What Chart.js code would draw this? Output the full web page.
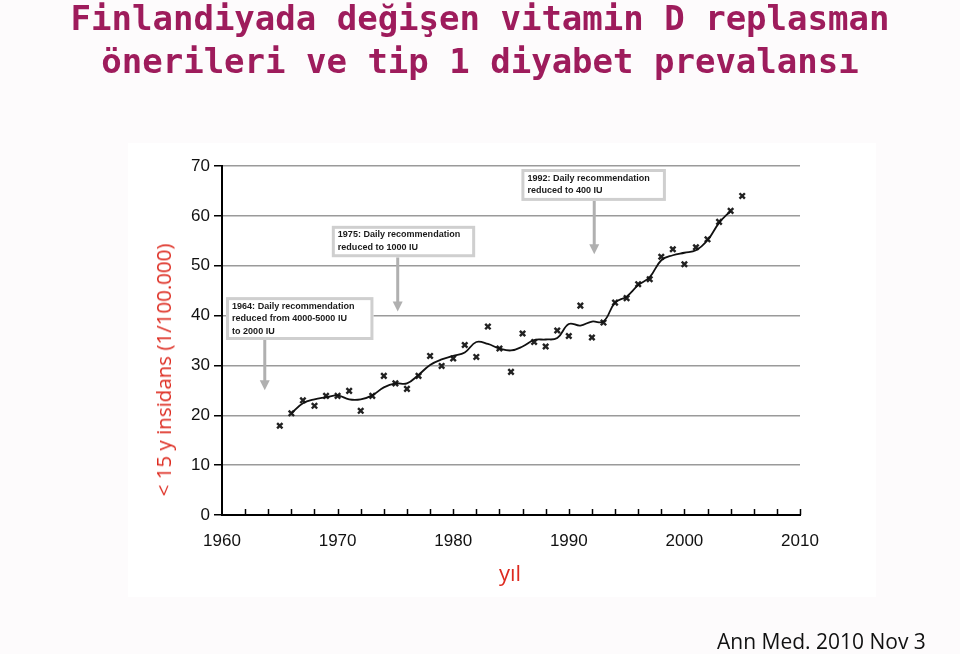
<!DOCTYPE html>
<html>
<head>
<meta charset="utf-8">
<script src="https://cdn.jsdelivr.net/npm/chart.js@4"></script>
<style>
  html, body { margin: 0; padding: 0; }
  body { width: 960px; height: 654px; position: relative; overflow: hidden; background: #fdfbfc; }
  #panel { position: absolute; left: 128px; top: 143px; width: 748px; height: 454px; background: #ffffff; }
  #wrap { position: absolute; left: 0; top: 0; width: 960px; height: 654px; }
  #title { position: absolute; left: 0; top: -3px; width: 960px; text-align: center;
           font-family: "DejaVu Sans Mono", monospace; font-weight: bold; font-size: 34px;
           line-height: 43px; color: #9e1c5c; white-space: pre; }
  #ylab { position: absolute; left: 163px; top: 370px; transform: translate(-50%, -50%) rotate(-90deg);
          font-family: "Open Sans", sans-serif; font-size: 20.5px; color: #dd2a1f; white-space: nowrap; }
  #xlab { position: absolute; left: 510px; top: 572px; transform: translate(-50%, -50%);
          font-family: "Open Sans", sans-serif; font-size: 22px; color: #dd2a1f; }
  #src { position: absolute; left: 717px; top: 641px; transform: translateY(-50%);
         font-family: "Open Sans", sans-serif; font-size: 21px; color: #111; white-space: nowrap; }
</style>
</head>
<body>
<div id="panel"></div>
<div id="wrap"><canvas id="c" width="960" height="654"></canvas></div>
<div id="title">Finlandiyada değişen vitamin D replasman
önerileri ve tip 1 diyabet prevalansı</div>
<div id="ylab">&lt; 15 y insidans (1/100.000)</div>
<div id="xlab">yıl</div>
<div id="src">Ann Med. 2010 Nov 3</div>
<script>
// ---- data ----
const years = [1965,1966,1967,1968,1969,1970,1971,1972,1973,1974,1975,1976,1977,1978,1979,1980,
               1981,1982,1983,1984,1985,1986,1987,1988,1989,1990,1991,1992,1993,1994,1995,1996,
               1997,1998,1999,2000,2001,2002,2003,2004,2005];
const incidence = [17.9,20.4,23.0,21.9,23.9,23.9,24.9,20.9,23.9,27.9,26.4,25.3,27.9,31.9,29.9,31.4,
                   34.1,31.7,37.8,33.4,28.7,36.4,34.7,33.8,37.0,35.9,42.0,35.6,38.6,42.6,43.5,46.3,
                   47.3,51.8,53.3,50.3,53.7,55.3,58.8,61.0,64.0];
const trendYears = [1966,1967,1968,1969,1970,1971,1972,1973,1974,1975,1976,1977,1978,1979,1980,
                    1981,1982,1983,1984,1985,1986,1987,1988,1989,1990,1991,1992,1993,1994,1995,
                    1996,1997,1998,1999,2000,2001,2002,2003,2004];
const trendValues = [20.4,22.4,23.2,23.6,24.0,23.2,23.2,24.0,25.6,26.4,26.4,28.1,30.1,31.2,31.9,
                     32.6,34.7,34.3,33.4,33.0,33.8,35.1,35.2,35.5,38.3,38.0,38.8,38.8,42.6,43.8,
                     46.1,47.7,51.1,52.1,52.6,53.1,55.1,58.6,61.0];
const xTickLabels = [1960,1970,1980,1990,2000,2010];
const yTickLabels = [0,10,20,30,40,50,60,70];
const noteYears = [1964,1975,1992];
const noteTexts = [
  ["1964: Daily recommendation", "reduced from 4000-5000 IU", "to 2000 IU"],
  ["1975: Daily recommendation", "reduced to 1000 IU"],
  ["1992: Daily recommendation", "reduced to 400 IU"]
];

// annotation geometry (data coordinates)
const noteGeom = [
  {x0:1960.35, x1:1973.1, yTop:43.7, yBot:35.1, arrowX:1963.7, tip:25.0},
  {x0:1969.5,  x1:1981.9, yTop:58.0, yBot:51.7, arrowX:1975.2, tip:40.8},
  {x0:1985.9,  x1:1998.4, yTop:69.4, yBot:63.0, arrowX:1992.2, tip:52.3}
];

const pts = years.map((y,i)=>({x:y, y:incidence[i]}));
const trend = trendYears.map((y,i)=>({x:y, y:trendValues[i]}));

const decor = {
  id: 'decor',
  afterDatasetsDraw(chart) {
    const ctx = chart.ctx, xs = chart.scales.x, ys = chart.scales.y;
    ctx.save();
    // minor upward ticks on the x axis every 2 years
    ctx.strokeStyle = '#000'; ctx.lineWidth = 1.5;
    const y0 = ys.getPixelForValue(0);
    for (let yr = 1962; yr <= 2010; yr += 2) {
      const px = Math.round(xs.getPixelForValue(yr)) + 0.5;
      ctx.beginPath(); ctx.moveTo(px, y0); ctx.lineTo(px, y0 - 6); ctx.stroke();
    }
    // annotation boxes and arrows
    noteGeom.forEach((g, i) => {
      const l = xs.getPixelForValue(g.x0), r = xs.getPixelForValue(g.x1);
      const t = ys.getPixelForValue(g.yTop), b = ys.getPixelForValue(g.yBot);
      const ax = xs.getPixelForValue(g.arrowX), tip = ys.getPixelForValue(g.tip);
      // arrow
      ctx.strokeStyle = '#b0b0b0'; ctx.fillStyle = '#b0b0b0'; ctx.lineWidth = 3;
      ctx.beginPath(); ctx.moveTo(ax, b); ctx.lineTo(ax, tip - 8); ctx.stroke();
      ctx.beginPath(); ctx.moveTo(ax - 5, tip - 10); ctx.lineTo(ax + 5, tip - 10); ctx.lineTo(ax, tip); ctx.closePath(); ctx.fill();
      // box
      ctx.fillStyle = '#ffffff';
      ctx.fillRect(l, t, r - l, b - t);
      ctx.strokeStyle = '#cfcfcf'; ctx.lineWidth = 3;
      ctx.strokeRect(l + 1.5, t + 1.5, r - l - 3, b - t - 3);
      // text
      ctx.fillStyle = '#1a1a1a';
      ctx.font = 'bold 9.5px "Liberation Sans", Arial, sans-serif';
      ctx.textBaseline = 'middle';
      noteTexts[i].forEach((line, k) => {
        ctx.save();
        ctx.translate(l + 6, t + 9 + k * 12.5);
        ctx.scale(0.95, 1);
        ctx.fillText(line, 0, 0);
        ctx.restore();
      });
    });
    ctx.restore();
  }
};

new Chart(document.getElementById('c'), {
  type: 'scatter',
  data: {
    datasets: [
      { label: 'trend', data: trend, showLine: true, borderColor: '#111', borderWidth: 1.8,
        pointRadius: 0, tension: 0.4, fill: false },
      { label: 'incidence', data: pts, pointStyle: 'crossRot', pointRadius: 3.8,
        borderColor: '#222', backgroundColor: '#222', pointBorderWidth: 2.4 }
    ]
  },
  options: {
    responsive: false, animation: false, devicePixelRatio: 1,
    layout: { padding: { left: 182, right: 160, top: 166, bottom: 99 } },
    plugins: { legend: { display: false }, tooltip: { enabled: false }, title: { display: false } },
    scales: {
      x: {
        type: 'linear', min: 1960, max: 2010,
        afterFit: s => { s.height = 40; },
        afterBuildTicks: s => { s.ticks = xTickLabels.map(v => ({ value: v })); },
        grid: { display: false },
        border: { display: true, color: '#000', width: 2 },
        ticks: { padding: 8, color: '#111', font: { family: '"Liberation Sans", Arial', size: 17 },
                 maxRotation: 0, callback: v => String(v) }
      },
      y: {
        min: 0, max: 70,
        afterFit: s => { s.width = 40; },
        afterBuildTicks: s => { s.ticks = yTickLabels.map(v => ({ value: v })); },
        grid: { color: '#9a9a9a', lineWidth: 1.5, tickColor: '#000', tickLength: 8 },
        border: { display: true, color: '#000', width: 2 },
        ticks: { padding: 4, color: '#111', font: { family: '"Liberation Sans", Arial', size: 17 } }
      }
    }
  },
  plugins: [decor]
});
</script>
</body>
</html>
